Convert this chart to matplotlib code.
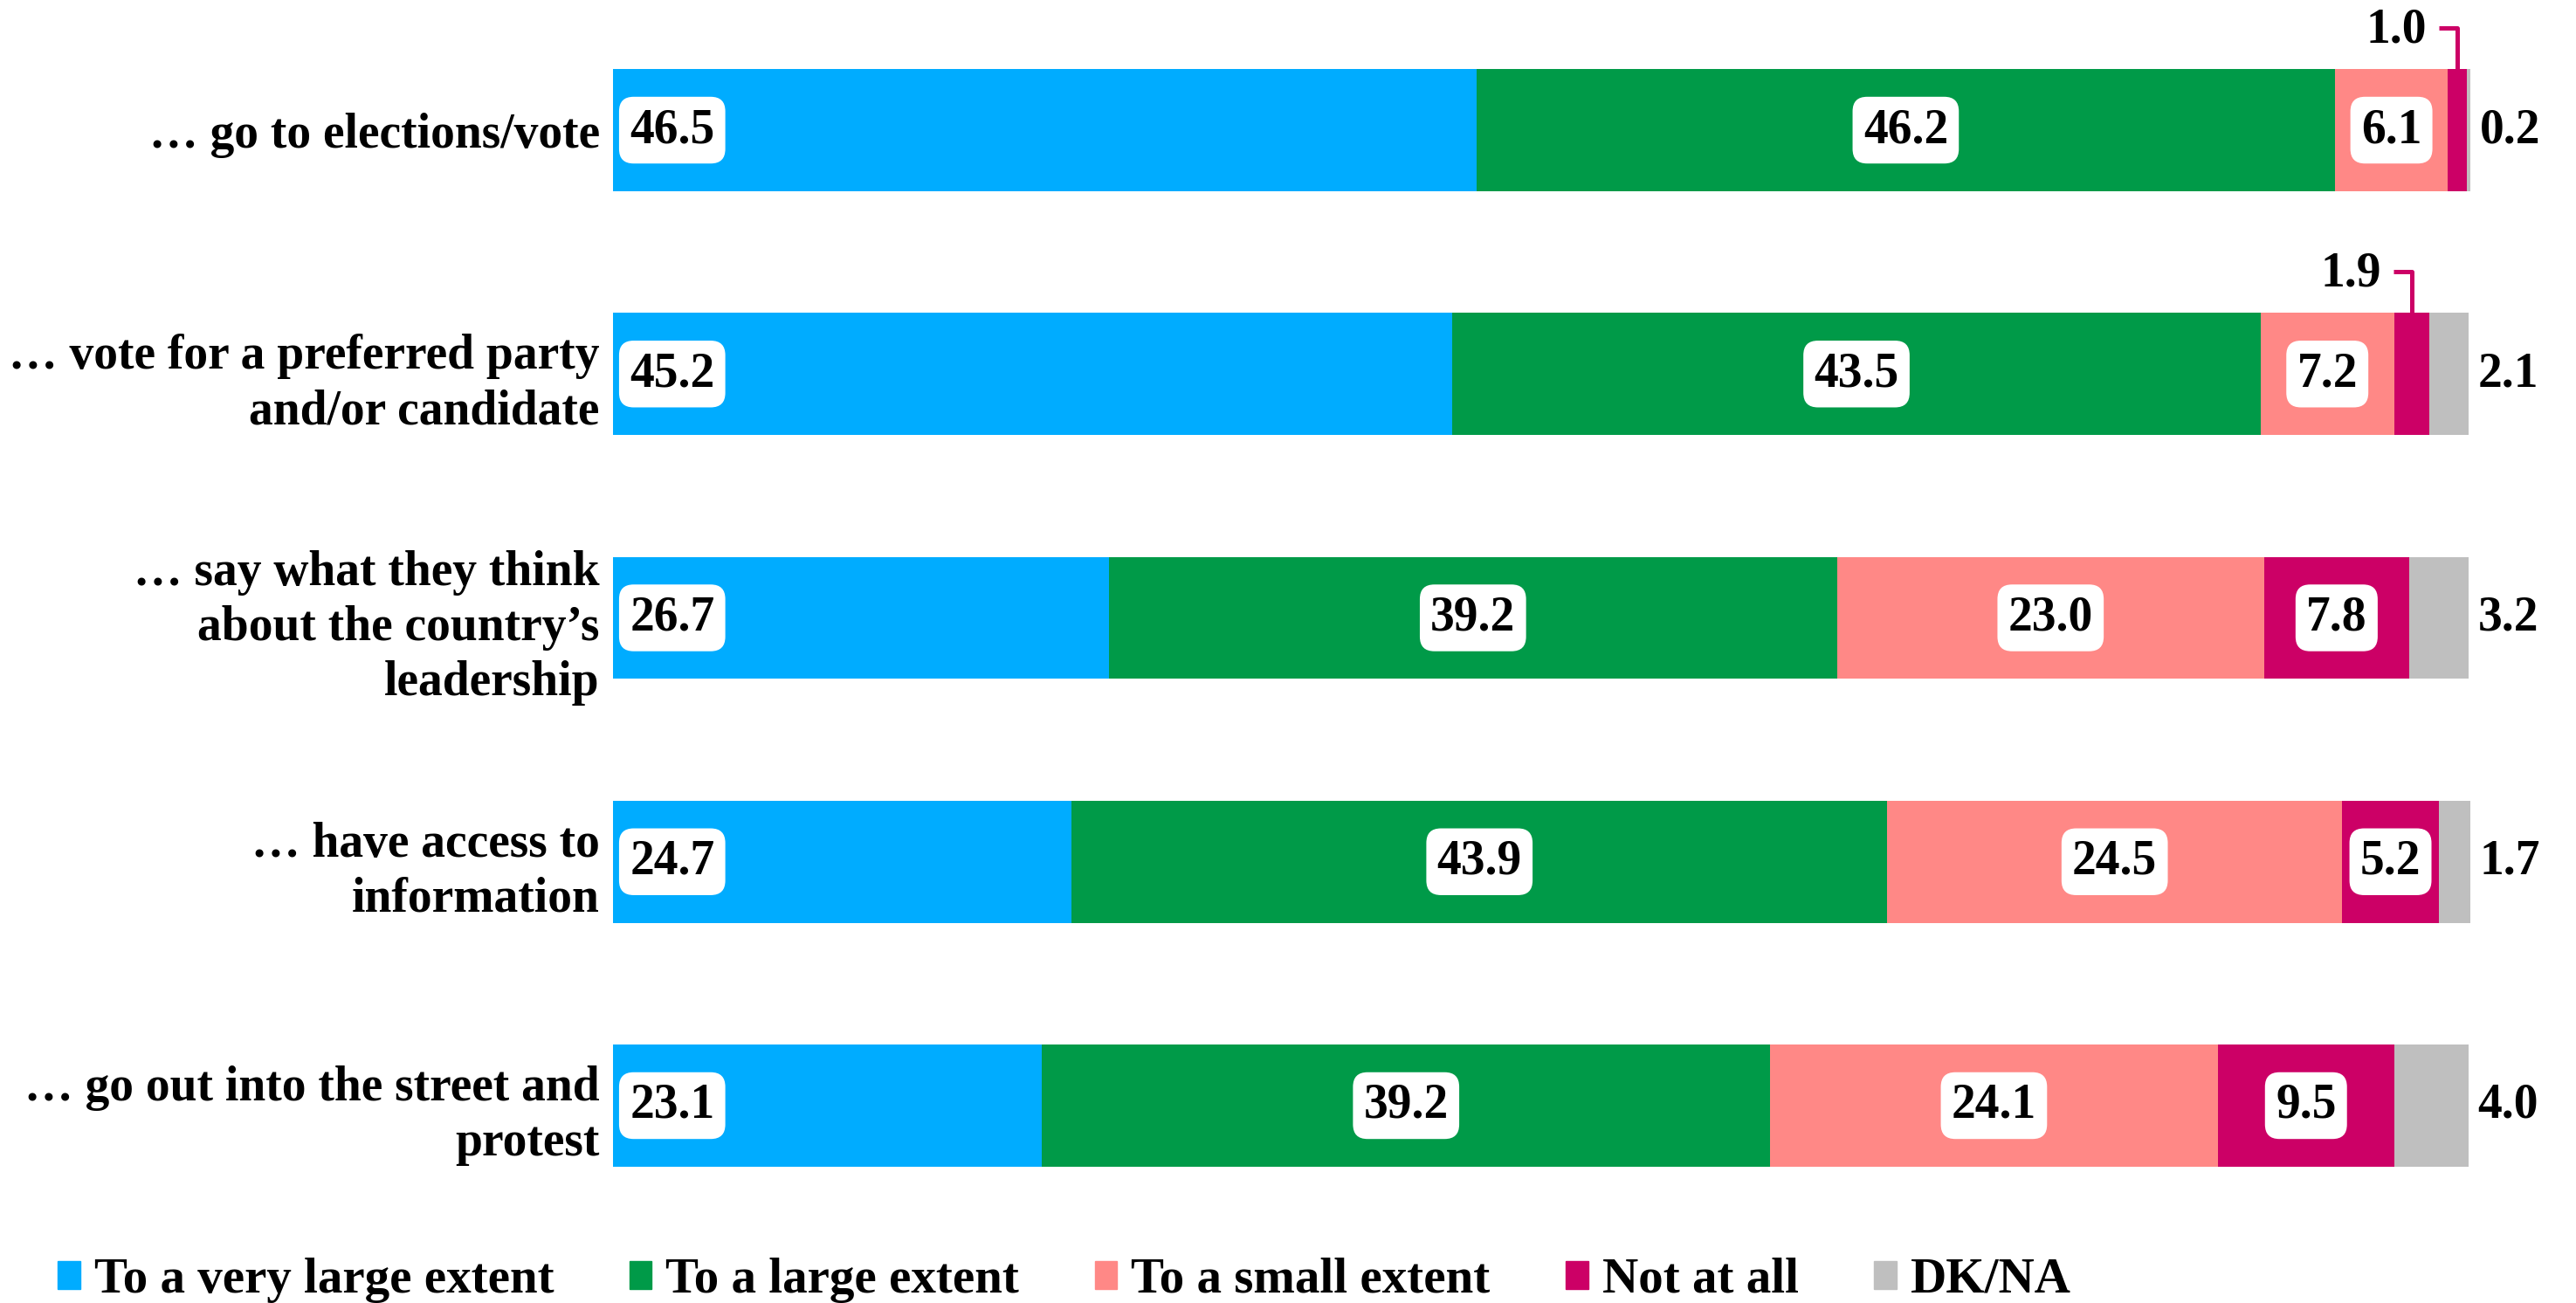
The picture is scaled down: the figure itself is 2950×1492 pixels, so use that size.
#!/usr/bin/env python
#------------------------------

import numpy as np
import matplotlib
matplotlib.use('Agg')
import matplotlib.pyplot as plt
from matplotlib.patches import Patch

#------------------------------

categories = ['\u2026 go to elections/vote',
              '\u2026 vote for a preferred party\nand/or candidate',
              '\u2026 say what they think\nabout the country\u2019s\nleadership',
              '\u2026 have access to\ninformation',
              '\u2026 go out into the street and\nprotest']

series = ['To a very large extent', 'To a large extent', 'To a small extent',
          'Not at all', 'DK/NA']

very_large = [46.5, 45.2, 26.7, 24.7, 23.1]
large      = [46.2, 43.5, 39.2, 43.9, 39.2]
small      = [6.1, 7.2, 23.0, 24.5, 24.1]
not_at_all = [1.0, 1.9, 7.8, 5.2, 9.5]
dk_na      = [0.2, 2.1, 3.2, 1.7, 4.0]

colors = ['#00ACFF', '#009A48', '#FF8886', '#CC0066', '#BFBFBF']

#------------------------------

plt.rcParams['font.family'] = ['Liberation Serif', 'DejaVu Serif']
plt.rcParams['font.weight'] = 'bold'

FS = 40     # category labels
FL = 41     # legend
FV = 40     # values
BOX = dict(boxstyle='round,pad=0.22,rounding_size=0.3', fc='white', ec='none')

#------------------------------

def plot_chart():
    fig = plt.figure(figsize=(29.5, 14.92), dpi=100)
    ax = fig.add_axes([702/2950, 1-1405.6/1492, 2127/2950, (1405.6-9.4)/1492])

    data = np.array([very_large, large, small, not_at_all, dk_na])
    y = np.arange(len(categories))
    left = np.zeros(len(categories))
    for k in range(len(series)):
        ax.barh(y, data[k], left=left, height=0.5, color=colors[k], label=series[k])
        for i in range(len(categories)):
            v = data[k][i]
            if k == 0:
                ax.text(left[i] + 0.9, i, '%.1f' % v, ha='left', va='center',
                        fontsize=FV, bbox=BOX, zorder=5)
            elif k in (1, 2):
                ax.text(left[i] + v/2, i, '%.1f' % v, ha='center', va='center',
                        fontsize=FV, bbox=BOX, zorder=5)
            elif k == 3:
                xc = left[i] + v/2
                if v < 3:
                    # small slice: callout above the bar
                    ax.plot([xc - 1.0, xc, xc], [i - 0.42, i - 0.42, i - 0.1],
                            color=colors[3], lw=3.6, solid_joinstyle='round',
                            solid_capstyle='butt', zorder=4)
                    ax.text(xc - 3.3, i - 0.41, '%.1f' % v, ha='center', va='center',
                            fontsize=FV, zorder=5)
                else:
                    ax.text(xc, i, '%.1f' % v, ha='center', va='center',
                            fontsize=FV, bbox=BOX, zorder=5)
            else:
                ax.text(left[i] + v + 0.5, i, '%.1f' % v, ha='left', va='center',
                        fontsize=FV, zorder=5)
        left = left + data[k]

    ax.set_xlim(0, 100)
    ax.set_ylim(4.5, -0.5)
    ax.set_yticks(y)
    ax.set_yticklabels(categories, fontsize=FS, ha='right', linespacing=1.28)
    ax.tick_params(axis='y', length=0, pad=11)
    ax.set_xticks([])
    for s in ax.spines.values():
        s.set_visible(False)

    handles = [Patch(color=c) for c in colors]
    fig.legend(handles, series, loc='center left', bbox_to_anchor=(66/2950, 1-1466/1492),
               ncol=5, frameon=False, fontsize=FL, borderpad=0, borderaxespad=0,
               handlelength=0.45, handleheight=0.5, handletextpad=0.28,
               columnspacing=1.52)

    fig.savefig('out.png', dpi=100)

#------------------------------

if __name__ == "__main__":
    plot_chart()

#------------------------------
